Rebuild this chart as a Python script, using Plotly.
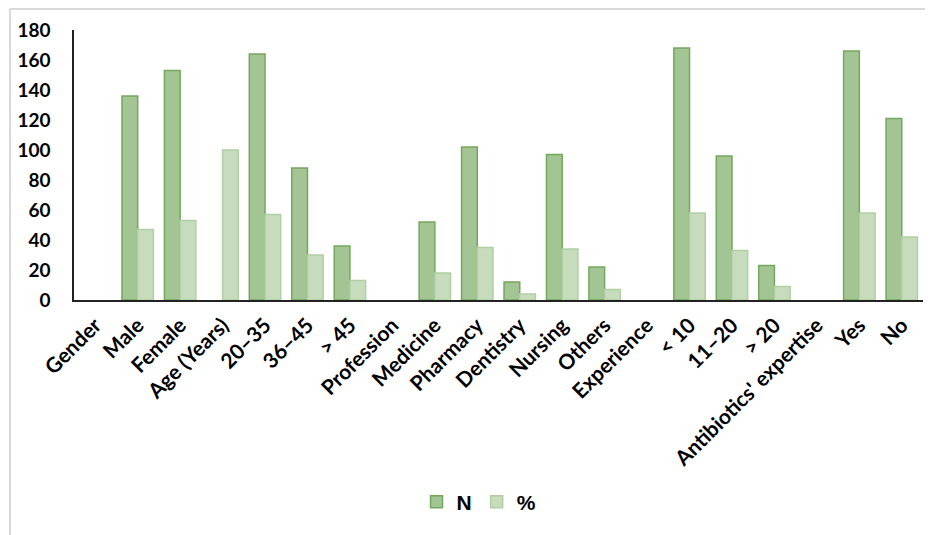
import plotly.graph_objects as go

categories = ["Gender", "Male", "Female", "Age (Years)", "20–35", "36–45", "> 45",
              "Profession", "Medicine", "Pharmacy", "Dentistry", "Nursing", "Others",
              "Experience", "< 10", "11–20", "> 20", "Antibiotics' expertise", "Yes", "No"]
n_values = [None, 136, 153, None, 164, 88, 36,
            None, 52, 102, 12, 97, 22,
            None, 168, 96, 23, None, 166, 121]
pct_values = [None, 47, 53, 100, 57, 30, 13,
              None, 18, 35, 4, 34, 7,
              None, 58, 33, 9, None, 58, 42]
y_ticks = [0, 20, 40, 60, 80, 100, 120, 140, 160, 180]

# page body has an 8px margin; figure coordinates = reference pixel - 8
OFF = 8
W, H = 933 - OFF, 535 - OFF
L, T = 74 - OFF, 30 - OFF
R = W - (923 - OFF)
B = H - (300 - OFF)
pw = W - L - R
ph = H - T - B

def px(x):
    return (x - OFF - L) / pw

def py(y):
    return (H - B - (y - OFF)) / ph

fig = go.Figure()
fig.add_trace(go.Bar(
    x=categories, y=n_values, name="N",
    marker=dict(color="#a3c493", line=dict(color="#74a85e", width=1.5)),
))
fig.add_trace(go.Bar(
    x=categories, y=pct_values, name="%",
    marker=dict(color="#c6dcbc", line=dict(color="#b0d0a2", width=1.5)),
))

fig.update_layout(
    width=W, height=H,
    margin=dict(l=L, r=R, t=T, b=B),
    plot_bgcolor="white", paper_bgcolor="white",
    barmode="group", bargap=0.26, bargroupgap=0,
    font=dict(family="Lato", size=16, color="black"),
    showlegend=True,
    legend=dict(orientation="h", x=px(479), y=py(502), xanchor="center", yanchor="middle",
                font=dict(family="Liberation Sans", size=21, color="black", weight="bold"),
                itemwidth=30, traceorder="normal"),
    xaxis=dict(
        tickangle=-45, showgrid=False, showline=True, linecolor="#222222", linewidth=1.5,
        tickfont=dict(family="Lato", size=21, color="black", weight="bold"),
        ticks="", ticklabelstandoff=3, range=[-0.5, len(categories) - 0.5],
    ),
    yaxis=dict(
        range=[0, 180], tickvals=y_ticks, showgrid=False, showline=True,
        linecolor="#222222", linewidth=1.5, ticks="", ticklabelstandoff=18,
        tickfont=dict(family="Lato", size=19, color="black", weight="bold"),
        zeroline=False,
    ),
    shapes=[
        dict(type="line", xref="paper", yref="paper", x0=px(10), x1=px(940), y0=py(9), y1=py(9),
             line=dict(color="#d9d9d9", width=2)),
        dict(type="line", xref="paper", yref="paper", x0=px(10), x1=px(10), y0=py(9), y1=py(540),
             line=dict(color="#d9d9d9", width=2)),
    ],
)

fig.write_html("out.html")
